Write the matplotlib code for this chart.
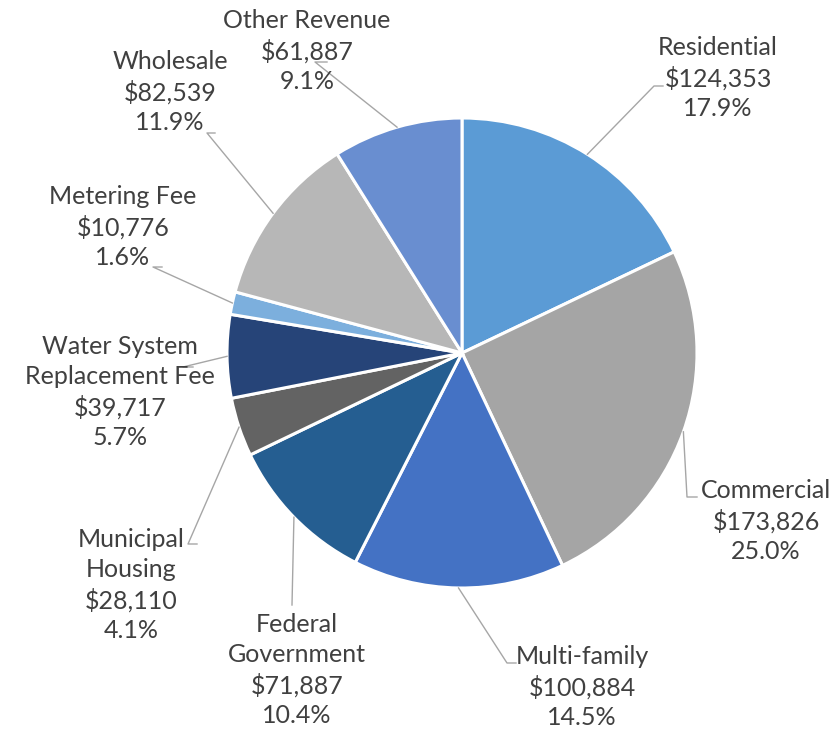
import numpy as np
import matplotlib.pyplot as plt

plt.rcParams['font.family'] = ['Lato', 'DejaVu Sans']

categories = ["Residential", "Commercial", "Multi-family", "Federal\nGovernment",
              "Municipal\nHousing", "Water System\nReplacement Fee", "Metering Fee",
              "Wholesale", "Other Revenue"]
revenue = [124353, 173826, 100884, 71887, 28110, 39717, 10776, 82539, 61887]
pct_labels = ["17.9%", "25.0%", "14.5%", "10.4%", "4.1%", "5.7%", "1.6%", "11.9%", "9.1%"]
colors = ["#5B9BD5", "#A5A5A5", "#4472C4", "#255E91", "#636363",
          "#264478", "#7CAFDD", "#B7B7B7", "#698ED0"]

# label block centre and leader elbow, in pixels of the 836x731 canvas
label_xy = [(718, 78), (766, 521), (582, 687), (297, 670), (131, 585),
            (120, 392), (123, 227), (170, 92), (307, 51)]
leader = [[(663, 86), (654, 86)],
          [(697, 497), (687, 497)],
          [(516, 663), (507, 663)],
          [(292, 605)],
          [(197, 544), (188, 544)],
          [(193, 367), (183, 367)],
          [(162, 267), (153, 267)],
          [(215, 133), (207, 133)],
          [(327, 62), (315, 62)]]

CX, CY, R = 462, 353, 235.0
W, H = 836, 731


def to_data(p):
    return ((p[0] - CX) / R, (CY - p[1]) / R)


fig = plt.figure(figsize=(8.36, 7.31), dpi=100)
ax = fig.add_axes([0, 0, 1, 1])
wedges, _ = ax.pie(revenue, colors=colors, startangle=90, counterclock=False,
                   radius=1.0, wedgeprops=dict(edgecolor="white", linewidth=2.2))
ax.set_xlim(-CX / R, (W - CX) / R)
ax.set_ylim((CY - H) / R, CY / R)
ax.axis("off")

for w, name, val, pct, pos, pts in zip(wedges, categories, revenue, pct_labels,
                                       label_xy, leader):
    tx, ty = to_data(pos)
    ax.text(tx, ty, f"{name}\n${val:,}\n{pct}", ha="center", va="center",
            fontsize=18, color="#404040", linespacing=1.36)
    ang = np.deg2rad((w.theta1 + w.theta2) / 2)
    path = [to_data(p) for p in pts] + [(np.cos(ang), np.sin(ang))]
    xs, ys = zip(*path)
    ax.plot(xs, ys, color="#A6A6A6", linewidth=1.0)

fig.savefig("out.png", dpi=100)
